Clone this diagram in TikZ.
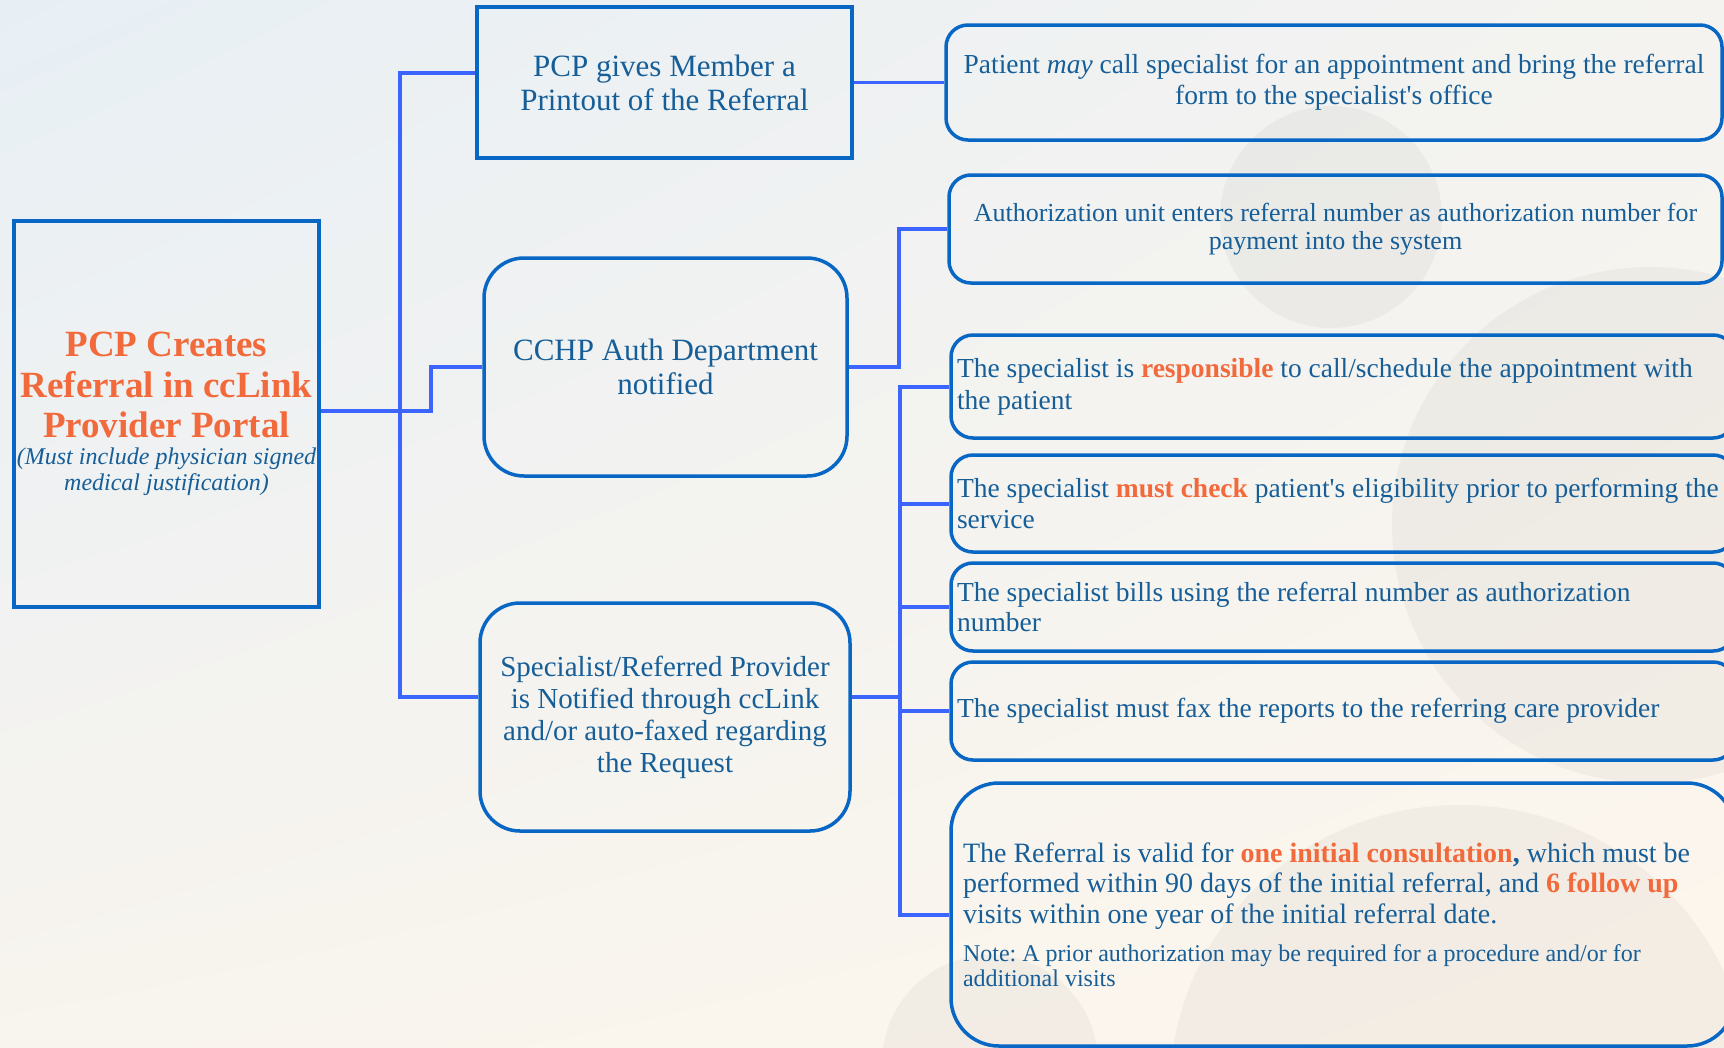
\documentclass[tikz,border=0pt]{standalone}
\usepackage{fontspec}
\newfontfamily\seriffont{Liberation Serif}
\usetikzlibrary{shadings}
\definecolor{boxblue}{RGB}{8,102,196}
\definecolor{connblue}{RGB}{60,100,255}
\definecolor{txtblue}{RGB}{22,94,152}
\definecolor{orng}{RGB}{242,106,60}
\definecolor{bgUL}{RGB}{231,239,245}
\definecolor{bgUR}{RGB}{244,243,240}
\definecolor{bgLL}{RGB}{248,244,238}
\definecolor{bgLR}{RGB}{253,246,236}
\newcommand\hiorange[1]{{\bfseries\color{orng}#1}}
\newcommand\ns{\frenchspacing\spaceskip=\fontdimen2\font\xspaceskip=\fontdimen2\font\relax}
\begin{document}
\begin{tikzpicture}[x=1pt,y=-1pt,
  sharpbox/.style={draw=boxblue, line width=3.5pt, inner sep=1pt, align=center, text=txtblue},
  roundbox/.style={sharpbox, rounded corners=40pt},
  notebox/.style={draw=boxblue, line width=3.5pt, rounded corners=22pt, inner xsep=6pt, inner ysep=0pt, align=left, text=txtblue, font=\fontsize{27.5}{31}\selectfont},
  conn/.style={draw=connblue, line width=4pt},
  faint/.style={fill=black, opacity=0.035}]
\seriffont
\useasboundingbox (0,0) rectangle (1724,1047);
\clip (0,0) rectangle (1724,1047);
\shade[upper left=bgUL, upper right=bgUR, lower left=bgLL, lower right=bgLR] (0,0) rectangle (1724,1047);
\fill[faint] (1331,217) circle[radius=111pt];
\fill[faint] (1650,525) circle[radius=258pt];
\fill[faint] (1460,1090) ellipse[x radius=290pt, y radius=285pt];
\fill[faint] (990,1063) circle[radius=108pt];

% left main box
\node[sharpbox, minimum width=305pt, minimum height=386pt, text width=303pt] (creates) at (166.5,414)
  {{\fontsize{37}{40.5}\selectfont\bfseries\ns\color{orng}PCP Creates\\ Referral in ccLink\\ Provider Portal\par}%
   {\fontsize{24}{26.5}\selectfont\itshape\ns (Must include physician signed\\ medical justification)\par}};

% middle column
\node[sharpbox, minimum width=375pt, minimum height=151pt, text width=373pt, font=\fontsize{31}{34}\selectfont] (print) at (664.5,82.5)
  {\ns PCP gives Member a\\ Printout of the Referral};
\node[roundbox, minimum width=363pt, minimum height=218pt, text width=361pt, font=\fontsize{31}{34}\selectfont] (cchp) at (665.5,367)
  {\ns CCHP Auth Department\\ notified};
\node[roundbox, minimum width=370pt, minimum height=228pt, text width=368pt, font=\fontsize{29}{32}\selectfont] (spec) at (665,717)
  {\ns Specialist/Referred Provider\\ is Notified through ccLink\\ and/or auto-faxed regarding\\ the Request};

% right column
\node[notebox, align=center, minimum height=115pt, text width=764pt] (patient) at (1334,82.5)
  {\ns Patient \textit{may} call specialist for an appointment and bring the referral\\ form to the specialist's office};
\node[notebox, align=center, minimum height=108pt, text width=761pt, font=\fontsize{26}{28.6}\selectfont] (auth) at (1335.5,229)
  {\ns Authorization unit enters referral number as authorization number for\\ payment into the system};
\node[notebox, minimum height=103pt, text width=772pt, font=\fontsize{27.5}{32}\selectfont] (resp) at (1343,386.5)
  {\ns The specialist is \hiorange{responsible} to call/schedule the appointment with\\ the patient};
\node[notebox, minimum height=97pt, text width=772pt] (check) at (1343,503.5)
  {\ns The specialist \hiorange{must check} patient's eligibility prior to performing the\\ service};
\node[notebox, minimum height=88pt, text width=772pt, font=\fontsize{27.5}{30}\selectfont] (bills) at (1343,607)
  {\ns The specialist bills using the referral number as authorization\\ number};
\node[notebox, minimum height=98pt, text width=772pt] (fax) at (1343,711)
  {\ns The specialist must fax the reports to the referring care provider};
\node[notebox, rounded corners=48pt, inner xsep=12pt, minimum height=263pt, text width=760pt, font=\fontsize{28}{30.5}\selectfont] (referral) at (1343,914.5)
  {\ns The Referral is valid for \hiorange{one initial consultation}\textbf{,} which must be\\ performed within 90 days of the initial referral, and \hiorange{6 follow up}\\ visits within one year of the initial referral date.\par\vspace{13pt}%
   {\fontsize{24}{25}\selectfont\ns Note: A prior authorization may be required for a procedure and/or for\\ additional visits\par}};

% connectors
\coordinate (trunk) at (400,411);
\coordinate (trunk2) at (900,697);
\draw[conn] ([yshift=9.5pt]print.west) -| (trunk) |- ([yshift=20pt]spec.west);
\draw[conn] ([yshift=3pt]creates.east) -- (trunk) -- ++(31,0) |- (cchp.west);
\draw[conn, line width=3.5pt] (print.east) -- (patient.west);
\draw[conn] (cchp.east) -- ++(50,0) |- (auth.west);
\draw[conn] ([yshift=20pt]spec.east) -- (trunk2);
\draw[conn] (resp.west) -| (trunk2) |- (referral.west);
\draw[conn] (trunk2 |- check.west) -- (check.west);
\draw[conn] (trunk2 |- bills.west) -- (bills.west);
\draw[conn] (trunk2 |- fax.west) -- (fax.west);
\end{tikzpicture}
\end{document}
